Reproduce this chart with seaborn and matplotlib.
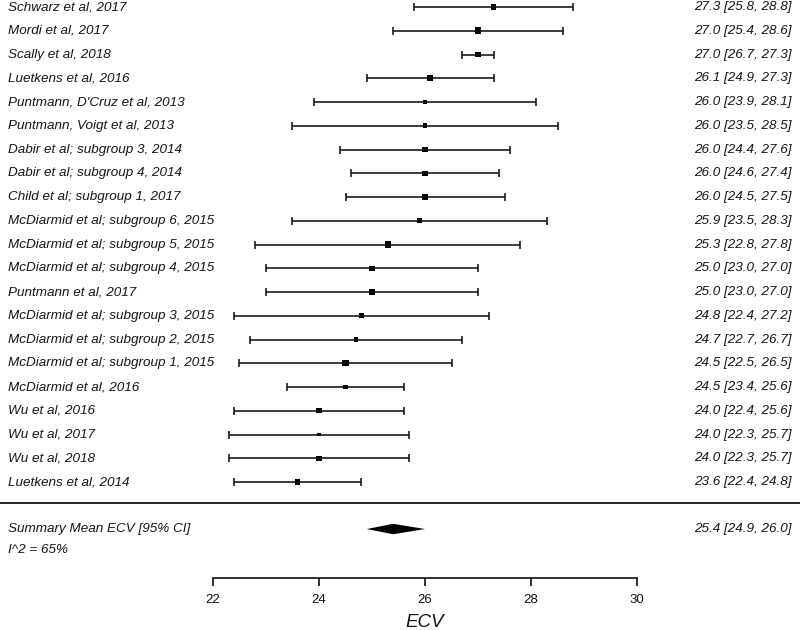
import numpy as np
import pandas as pd
import matplotlib
matplotlib.use("Agg")
import matplotlib.pyplot as plt
import seaborn as sns

studies = [
    "Schwarz et al, 2017",
    "Mordi et al, 2017",
    "Scally et al, 2018",
    "Luetkens et al, 2016",
    "Puntmann, D'Cruz et al, 2013",
    "Puntmann, Voigt et al, 2013",
    "Dabir et al; subgroup 3, 2014",
    "Dabir et al; subgroup 4, 2014",
    "Child et al; subgroup 1, 2017",
    "McDiarmid et al; subgroup 6, 2015",
    "McDiarmid et al; subgroup 5, 2015",
    "McDiarmid et al; subgroup 4, 2015",
    "Puntmann et al, 2017",
    "McDiarmid et al; subgroup 3, 2015",
    "McDiarmid et al; subgroup 2, 2015",
    "McDiarmid et al; subgroup 1, 2015",
    "McDiarmid et al, 2016",
    "Wu et al, 2016",
    "Wu et al, 2017",
    "Wu et al, 2018",
    "Luetkens et al, 2014",
]
mean = [27.3, 27.0, 27.0, 26.1, 26.0, 26.0, 26.0, 26.0, 26.0, 25.9, 25.3,
        25.0, 25.0, 24.8, 24.7, 24.5, 24.5, 24.0, 24.0, 24.0, 23.6]
lower = [25.8, 25.4, 26.7, 24.9, 23.9, 23.5, 24.4, 24.6, 24.5, 23.5, 22.8,
         23.0, 23.0, 22.4, 22.7, 22.5, 23.4, 22.4, 22.3, 22.3, 22.4]
upper = [28.8, 28.6, 27.3, 27.3, 28.1, 28.5, 27.6, 27.4, 27.5, 28.3, 27.8,
         27.0, 27.0, 27.2, 26.7, 26.5, 25.6, 25.6, 25.7, 25.7, 24.8]
# relative study weights (marker size)
weight = [4.0, 5.5, 4.0, 5.0, 3.5, 3.5, 4.5, 4.0, 4.0, 3.5, 5.0,
          4.0, 5.0, 4.0, 3.5, 5.0, 3.5, 4.0, 3.0, 4.0, 4.0]

summary_mean = 25.4
summary_ci = (24.9, 26.0)
i2_text = "I^2 = 65%"
x_ticks = [22, 24, 26, 28, 30]

df = pd.DataFrame({"study": studies, "mean": mean, "lower": lower,
                   "upper": upper, "weight": weight})
df["row"] = np.arange(1, len(df) + 1)

sns.set_theme(style="white")
plt.rcParams["font.family"] = ["Liberation Sans", "DejaVu Sans"]

fig = plt.figure(figsize=(8, 6.3), dpi=100)
ax = fig.add_axes([0, 0, 1, 1])

# x: 22 -> 213px, 53px per unit ; y: row 1 -> 7px, 23.75px per row
ax.set_xlim(22 - 213 / 53, 22 + (800 - 213) / 53)
y_top = 1 - 7 / 23.75
ax.set_ylim(y_top + 630 / 23.75, y_top)

ax.errorbar(df["mean"], df["row"],
            xerr=[df["mean"] - df["lower"], df["upper"] - df["mean"]],
            fmt="none", ecolor="#111111", elinewidth=1.15,
            capsize=2.6, capthick=1.15)
sns.scatterplot(data=df, x="mean", y="row", size="weight",
                sizes=(8, 22), marker="s", color="black",
                edgecolor="black", linewidth=0, legend=False, ax=ax)

fs = 9.7
tc = "#151515"
trans = ax.get_yaxis_transform()
for _, r in df.iterrows():
    ax.text(0.01, r["row"], r["study"], transform=trans, ha="left",
            va="center", style="italic", fontsize=fs, color=tc)
    ax.text(0.989, r["row"],
            f"{r['mean']:.1f} [{r['lower']:.1f}, {r['upper']:.1f}]",
            transform=trans, ha="right", va="center", style="italic",
            fontsize=fs, color=tc)

n = len(df)
line_y = n + 0.88
ax.axhline(line_y, color="#111111", linewidth=1.3)

sum_y = n + 1.98
h = 0.22
ax.fill([summary_ci[0], summary_mean, summary_ci[1], summary_mean],
        [sum_y, sum_y - h, sum_y, sum_y + h], color="black", linewidth=0)
ax.text(0.01, sum_y, "Summary Mean ECV [95% CI]", transform=trans,
        ha="left", va="center", style="italic", fontsize=fs, color=tc)
ax.text(0.989, sum_y,
        f"{summary_mean:.1f} [{summary_ci[0]:.1f}, {summary_ci[1]:.1f}]",
        transform=trans, ha="right", va="center", style="italic",
        fontsize=fs, color=tc)
ax.text(0.01, n + 2.86, i2_text, transform=trans, ha="left", va="center",
        style="italic", fontsize=fs, color=tc)

# bottom axis
for s in ["top", "left", "right"]:
    ax.spines[s].set_visible(False)
ax.spines["bottom"].set_position(("data", n + 4.04))
ax.spines["bottom"].set_bounds(22, 30)
ax.spines["bottom"].set_color("#111111")
ax.spines["bottom"].set_linewidth(1.2)
ax.set_xticks(x_ticks)
ax.set_yticks([])
ax.tick_params(axis="x", direction="out", length=5.5, width=1.2,
               bottom=True, labelsize=9.5, pad=6, colors="#111111")
ax.set_xlabel("ECV", style="italic", fontsize=13.5, color=tc)
ax.set_ylabel("")
ax.xaxis.set_label_coords(425 / 800, 1 - 614 / 630)
ax.xaxis.label.set_va("top")

fig.savefig("out.png", dpi=100)
